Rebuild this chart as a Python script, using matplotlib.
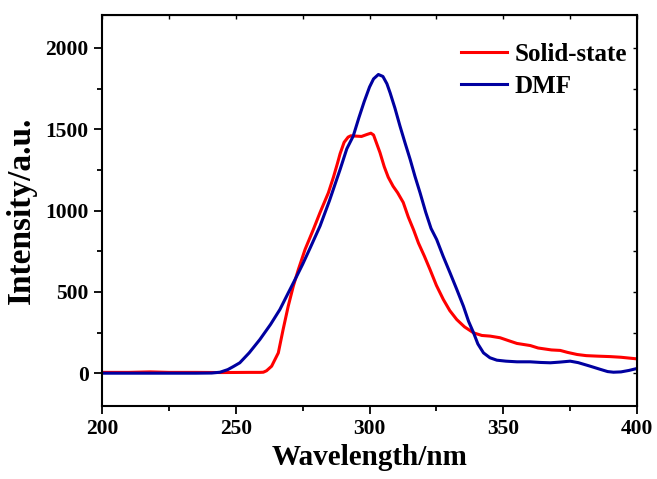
import matplotlib
matplotlib.use('Agg')
import matplotlib.pyplot as plt
from matplotlib.ticker import MultipleLocator

# Solid-state emission spectrum
solid_wl = [200, 210, 218, 225, 235, 245, 255, 259, 260.3, 261.5, 263.4, 265.9, 267.7, 269.6,
            271.5, 273.4, 275.9, 279, 281.5, 284.6, 286.5, 288, 289, 290.5, 292, 293, 295, 297,
            299, 300.5, 301.5, 302.5, 303.9, 305.5, 307, 308.8, 310.5, 312.6, 314.5, 316.5, 318.3,
            320.5, 322.6, 325, 327.6, 330, 332.6, 335.5, 338.9, 342, 345.1, 348.8, 352,
            355.1, 360.1, 363, 365.1, 368, 371.3, 374, 377.6, 381, 385, 390, 394, 400]
solid_int = [5, 5, 8, 5, 5, 4, 5, 5, 6, 15, 43, 125, 269, 412,
             535, 638, 761, 884, 988, 1109, 1205, 1290, 1350, 1420, 1452, 1460, 1458, 1456,
             1468, 1476, 1465, 1420, 1357, 1270, 1205, 1150, 1110, 1050, 960, 880, 800,
             720, 638, 540, 453, 385, 330, 285, 248, 232, 228, 218, 200,
             183, 170, 155, 150, 143, 140, 128, 115, 108, 105, 102, 98, 88]

# DMF solution spectrum
dmf_wl = [200, 220, 235, 241, 244.1, 247, 249, 251.5, 255, 259, 263, 266.5, 269.5, 272.8, 275,
          277.8, 281.5, 285, 289, 291.5, 293.9, 296, 298, 300, 301.5, 303.3, 305,
          306.5, 307.7, 309.5, 311.4, 313.3, 315.2, 317, 318.9, 321, 323, 325.1, 327.5,
          330.1, 332.5, 335.1, 337, 338.9, 340.5, 342.6, 345, 347.6, 351, 355.1, 360, 364,
          367.6, 371, 375, 378, 382.5, 386, 389, 391.2, 394, 397, 400]
dmf_int = [0, 0, 0, 1, 6, 22, 40, 64, 125, 207, 300, 392, 490, 597, 670,
           770, 905, 1060, 1253, 1380, 1458, 1570, 1670, 1760, 1810, 1837, 1825,
           1780, 1724, 1630, 1519, 1415, 1314, 1210, 1109, 990, 890, 822, 720,
           617, 520, 412, 320, 248, 180, 125, 95, 80, 74, 70, 70, 66,
           64, 68, 74, 65, 43, 25, 10, 6, 8, 17, 29]

plt.rcParams['font.family'] = 'Liberation Serif'
plt.rcParams['font.weight'] = 'bold'

fig = plt.figure(figsize=(6.57, 4.79), dpi=100)
ax = fig.add_axes([0.1553, 0.153, 0.8143, 0.8147])

ax.plot(solid_wl, solid_int, color='#FF0000', lw=2.2, label='Solid-state')
ax.plot(dmf_wl, dmf_int, color='#0000A0', lw=2.2, label='DMF')

ax.set_xlim(200, 400)
ax.set_ylim(-200, 2200)
ax.xaxis.set_major_locator(MultipleLocator(50))
ax.xaxis.set_minor_locator(MultipleLocator(25))
ax.yaxis.set_major_locator(MultipleLocator(500))
ax.yaxis.set_minor_locator(MultipleLocator(250))

for s in ax.spines.values():
    s.set_linewidth(1.5)

ax.tick_params(which='both', direction='out', width=1.3, labelsize=15.5,
               top=False, right=False)
ax.tick_params(which='major', length=6)
ax.tick_params(which='minor', length=3.8)

# inward ticks on top and right, no labels
ax_t = ax.secondary_xaxis('top')
ax_t.xaxis.set_major_locator(MultipleLocator(50))
ax_t.xaxis.set_minor_locator(MultipleLocator(25))
ax_t.tick_params(which='both', direction='in', length=3, width=1.0, labeltop=False)
ax_r = ax.secondary_yaxis('right')
ax_r.yaxis.set_major_locator(MultipleLocator(500))
ax_r.yaxis.set_minor_locator(MultipleLocator(250))
ax_r.tick_params(which='both', direction='in', length=3, width=1.0, labelright=False)

for lab in ax.get_xticklabels() + ax.get_yticklabels():
    lab.set_fontweight('bold')

ax.set_xlabel('Wavelength/nm', fontsize=21, fontweight='bold', labelpad=4)
ax.set_ylabel('Intensity/a.u.', fontsize=24, fontweight='bold', labelpad=6)

ax.legend(loc='upper left', bbox_to_anchor=(0.671, 0.93), frameon=False,
          handlelength=1.85, handletextpad=0.3, labelspacing=0.36,
          borderaxespad=0.0, borderpad=0.0,
          prop={'weight': 'bold', 'size': 18})

fig.savefig('out.png', dpi=100)
